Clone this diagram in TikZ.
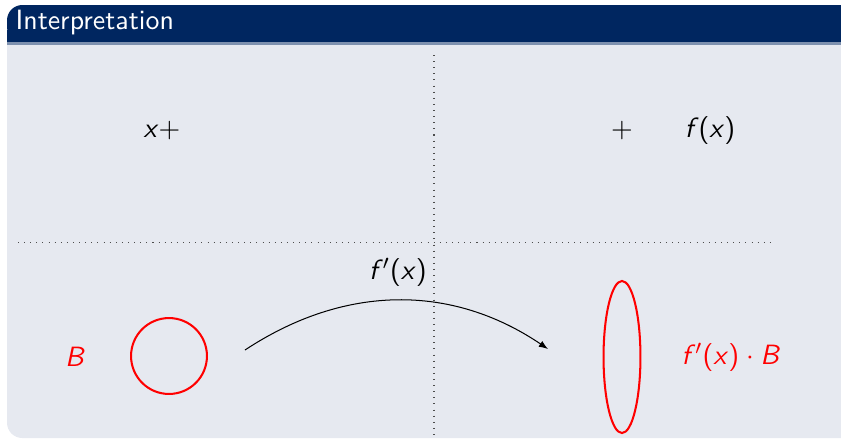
\documentclass[tikz,border=0pt,11pt]{standalone}
\usepackage{xcolor}
\usepackage{tikz}
\usetikzlibrary{arrows.meta, positioning, shapes.geometric}

\definecolor{blocktitle}{RGB}{0,38,96}
\definecolor{blockbody}{RGB}{230,233,240}
\renewcommand{\familydefault}{\sfdefault}
\newcommand{\sv}[1]{\textsl{#1}}

\begin{document}
\begin{tikzpicture}[
    x=0.3926pt, y=-0.3926pt,
    every node/.style={font=\sffamily},
    maths/.style={inner sep=1pt},
    redmaths/.style={inner sep=1pt, text=red},
    guide/.style={dotted, line width=0.4pt, black!70},
    redring/.style={draw=red, line width=0.8pt, inner sep=0pt},
    arrow/.style={-{Latex[length=3.6pt]}, line width=0.4pt}
]

\useasboundingbox (0,0) rectangle (841,440);

% block
\fill[blockbody, rounded corners=6] (7,30) rectangle (860,438);
\fill[blocktitle, rounded corners=6] (7,5) rectangle (860,42);
\fill[blocktitle] (7,30) rectangle (860,42);
\fill[blocktitle!45!blockbody] (7,42) rectangle (860,44.5);
\node[anchor=west, text=white, inner sep=2pt] (title) at (10,23) {Interpretation};

% dotted axes
\draw[guide] (434,55) -- (434,435);
\draw[guide] (18,242) -- (773,242);

% upper half
\node[maths] (xplus) at (162,131) {\sv{x}$+$};
\node[maths] (plus) at (622,131) {$+$};
\node[maths] (fx) at (710,131) {\sv{f}(\sv{x})};

% lower half
\node[redmaths] (ballname) at (75,357) {\sv{B}};
\node[redring, circle, minimum size=29.8pt] (ball) at (169,356) {};
\node[redring, ellipse, minimum width=14.5pt, minimum height=59.7pt] (image) at (622,357) {};
\node[redmaths] (imagename) at (731,357) {\sv{f}$'$(\sv{x})\hspace{0.24em}$\cdot$\hspace{0.24em}\sv{B}};
\node[maths] (fprime) at (398,272) {\sv{f}$'$(\sv{x})};

\coordinate (start) at (245,350);
\coordinate (end) at (548,349);
\draw[arrow] (start) .. controls (345,284) and (452,284) .. (end);

\end{tikzpicture}
\end{document}
